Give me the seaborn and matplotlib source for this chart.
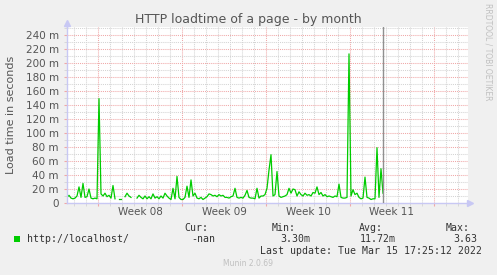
import numpy as np
import pandas as pd
import matplotlib
matplotlib.use("Agg")
import matplotlib.pyplot as plt
import matplotlib.dates as mdates
from matplotlib.ticker import MultipleLocator, FuncFormatter, FixedLocator
from matplotlib.patches import Rectangle
import seaborn as sns

# ---------------- data ----------------
title = "HTTP loadtime of a page - by month"
ylabel = "Load time in seconds"
week_labels = ["Week 08", "Week 09", "Week 10", "Week 11"]
week_starts = ["2022-02-20", "2022-02-27", "2022-03-06", "2022-03-13", "2022-03-20"]
series_name = "http://localhost/"
sample_start = "2022-02-17 10:00"
sample_step_hours = 4
nan = np.nan
load_ms = [
    8, 11, 7, 6, 7, 10, 23, 8, 28, 8,
    9, 20, 7, 6, 7, 6, 149, 13, 10, 14,
    9, 11, 7, 25, 6, nan, 5, 5, nan, 9,
    14, 10, 8, nan, nan, 7, 11, 8, 6, 10,
    6, 9, 6, 13, 7, 9, 6, 10, 7, 14,
    10, 7, 5, 21, 6, 38, 8, 5, 5, 8,
    24, 8, 33, 10, 14, 7, 6, 8, 5, 7,
    9, 13, 12, 10, 11, 9, 12, 10, 11, 8,
    8, 7, 9, 10, 21, 8, 7, 8, 7, 11,
    18, 8, 7, 7, 6, 21, 7, 10, 10, 12,
    21, 47, 69, 10, 12, 45, 10, 8, 9, 10,
    12, 21, 14, 20, 19, 10, 16, 12, 10, 14,
    11, 12, 10, 15, 14, 23, 12, 15, 10, 12,
    9, 10, 9, 8, 10, 9, 27, 8, 7, 7,
    8, 213, 10, 19, 12, 14, 8, 6, 7, 37,
    8, 7, 5, 6, 6, 79, 8, 49, 14,
]
last_sample_marker = "2022-03-15 18:00"
view_start = "2022-02-17 10:00"
view_end = "2022-03-22 20:00"
stats_labels = ["Cur:", "Min:", "Avg:", "Max:"]
stats_values = ["-nan", "3.30m", "11.72m", "3.63"]
last_update = "Last update: Tue Mar 15 17:25:12 2022"
footer = "Munin 2.0.69"
side_text = "RRDTOOL / TOBI OETIKER"

# ---------------- frame ----------------
values = np.array(load_ms, dtype=float)
times = pd.date_range(sample_start, periods=len(values), freq=f"{sample_step_hours}h")
df = pd.DataFrame({"time": times, "ms": values})
df["seg"] = np.cumsum(np.isnan(values))
df = df.dropna()

W, H = 497, 275
fig = plt.figure(figsize=(W / 100, H / 100), dpi=100, facecolor="#f0f0f0")
L, R, T, B = 67, 468, 27, 203
ax = fig.add_axes([L / W, 1 - B / H, (R - L) / W, (B - T) / H])
ax.set_facecolor("white")

line_green = "#00cc00"
axis_col = "#c8c8f4"
major_col = "#f0a8a8"
minor_col = "#d4d4d4"
text_col = "#555555"

sns.lineplot(data=df, x="time", y="ms", units="seg", estimator=None,
             color=line_green, lw=0.9, ax=ax, legend=False)

ax.axvline(pd.Timestamp(last_sample_marker), color="#909090", lw=1.0, zorder=3)

ax.set_xlim(pd.Timestamp(view_start), pd.Timestamp(view_end))
ax.set_ylim(0, 251.4)

ws = [mdates.date2num(pd.Timestamp(w)) for w in week_starts]
ax.xaxis.set_major_locator(FixedLocator(ws))
ax.xaxis.set_minor_locator(mdates.DayLocator())
ax.yaxis.set_major_locator(MultipleLocator(20))
ax.yaxis.set_minor_locator(MultipleLocator(10))
ax.yaxis.set_major_formatter(FuncFormatter(lambda v, p: "0" if v == 0 else f"{int(v)} m"))

dot = (0, (1, 1))
ax.grid(which="major", color=major_col, linestyle=dot, lw=0.75)
ax.grid(which="minor", color=minor_col, linestyle=dot, lw=0.75)
ax.set_axisbelow(True)

ax.tick_params(axis="x", which="both", labelbottom=False, length=2, color=major_col)
ax.tick_params(axis="x", which="minor", color=minor_col)
ax.tick_params(axis="y", which="major", length=2, pad=4, labelsize=7.5,
               labelcolor=text_col, color=major_col)
ax.tick_params(axis="y", which="minor", length=2, color=minor_col)
for lab in ax.get_yticklabels():
    lab.set_family("DejaVu Sans")
ax.set_xlabel("")
ax.set_ylabel("")

for s in ["top", "right"]:
    ax.spines[s].set_visible(False)
for s in ["left", "bottom"]:
    ax.spines[s].set_color(axis_col)
    ax.spines[s].set_linewidth(1.0)

# axis arrows
ax.plot([0, 0], [1, 1.02], transform=ax.transAxes, color=axis_col, lw=1.0, clip_on=False)
ax.plot([0], [1.025], marker="^", ms=4, color=axis_col, transform=ax.transAxes, clip_on=False)
ax.plot([1, 1.004], [0, 0], transform=ax.transAxes, color=axis_col, lw=1.0, clip_on=False)
ax.plot([1.006], [0], marker=">", ms=4, color=axis_col, transform=ax.transAxes, clip_on=False)

# week labels at mid-week
for i, lab in enumerate(week_labels):
    mid = (ws[i] + ws[i + 1]) / 2
    ax.text(mid, -0.05, lab, transform=ax.get_xaxis_transform(), ha="center", va="center",
            fontsize=7.5, color=text_col, family="DejaVu Sans")

def ftext(x, y, s, **kw):
    fig.text(x / W, 1 - y / H, s, **kw)

ftext(248, 19, title, ha="center", va="center", fontsize=9, color=text_col, family="DejaVu Sans")
ftext(11, 115, ylabel, ha="center", va="center", rotation=90, fontsize=8, color=text_col,
      family="DejaVu Sans")
ftext(488, 52, side_text, ha="center", va="center", rotation=270, fontsize=5.5, color="#c0c0c0",
      family="DejaVu Sans")
ftext(248, 264, footer, ha="center", va="center", fontsize=5.5, color="#c0c0c0", family="DejaVu Sans")

mono = dict(family="DejaVu Sans Mono", fontsize=7.1, color="#333333", va="center")
head_right = [208, 296, 383, 470]
val_right = [215, 310, 396, 477]
for lab, xr in zip(stats_labels, head_right):
    ftext(xr, 228, lab, ha="right", **mono)
for v, xr in zip(stats_values, val_right):
    ftext(xr, 239, v, ha="right", **mono)
ftext(27, 239, series_name, ha="left", **mono)
fig.patches.append(Rectangle((14 / W, 1 - 242 / H), 6 / W, 6 / H, transform=fig.transFigure,
                             facecolor=line_green, edgecolor="none"))
ftext(482, 251, last_update, ha="right", **mono)

fig.savefig("out.png", dpi=100, facecolor=fig.get_facecolor())
